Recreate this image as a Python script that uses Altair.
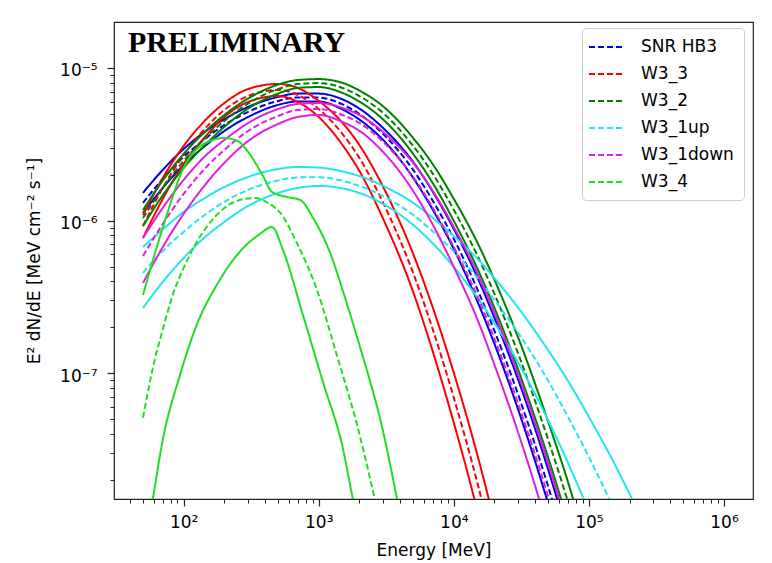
import altair as alt
import pandas as pd

# ---------------- data ----------------
SOURCES = ["SNR HB3", "W3_3", "W3_2", "W3_1up", "W3_1down", "W3_4"]
COLORS = ["#0000e0", "#ff0000", "#008000", "#22e6ee", "#e020e0", "#22dd22"]

# energies [MeV] shared by the smooth bands
E_GRID = [50, 70, 100, 150, 200, 300, 500, 700, 1000, 1500, 2000, 3000,
          5000, 7000, 1e4, 1.5e4, 2e4, 3e4, 5e4, 7e4, 1e5, 1.5e5, 2e5, 3e5]

# log10(E^2 dN/dE [MeV cm^-2 s^-1])
HB3_UP = [-5.818, -5.668, -5.531, -5.406, -5.335, -5.255, -5.190, -5.167, -5.168, -5.206,
          -5.266, -5.394, -5.616, -5.812, -6.055, -6.375, -6.638, -7.044, -7.633, -8.065]
HB3_MID = [-5.884, -5.727, -5.583, -5.452, -5.374, -5.288, -5.216, -5.193, -5.194, -5.239,
           -5.302, -5.433, -5.668, -5.871, -6.120, -6.454, -6.723, -7.142, -7.744, -8.183]
HB3_LO = [-5.950, -5.786, -5.635, -5.498, -5.413, -5.321, -5.242, -5.219, -5.220, -5.272,
          -5.338, -5.472, -5.720, -5.930, -6.186, -6.533, -6.808, -7.240, -7.855, -8.301]

W33_UP = [-5.963, -5.721, -5.511, -5.328, -5.230, -5.138, -5.105, -5.131, -5.216, -5.360,
          -5.505, -5.780, -6.218, -6.572, -6.998, -7.541, -7.974, -8.642]
W33_MID = [-6.035, -5.786, -5.570, -5.380, -5.275, -5.184, -5.144, -5.177, -5.269, -5.433,
           -5.590, -5.884, -6.343, -6.716, -7.161, -7.725, -8.177]
W33_LO = [-6.114, -5.858, -5.629, -5.433, -5.321, -5.223, -5.184, -5.223, -5.321, -5.505,
          -5.675, -5.989, -6.467, -6.860, -7.325, -7.908, -8.380]

W32_UP = [-5.931, -5.737, -5.563, -5.403, -5.308, -5.200, -5.109, -5.079, -5.073, -5.098,
          -5.148, -5.252, -5.459, -5.632, -5.858, -6.147, -6.388, -6.768, -7.319, -7.712, -8.184]
W32_MID = [-5.983, -5.786, -5.609, -5.446, -5.347, -5.233, -5.138, -5.105, -5.099, -5.131,
           -5.184, -5.295, -5.511, -5.694, -5.930, -6.232, -6.480, -6.873, -7.437, -7.843, -8.321]
W32_LO = [-6.035, -5.835, -5.655, -5.489, -5.386, -5.266, -5.168, -5.131, -5.125, -5.164,
          -5.220, -5.338, -5.563, -5.756, -6.002, -6.317, -6.572, -6.978, -7.555, -7.974, -8.459]

W31UP_UP = [-6.173, -6.058, -5.943, -5.842, -5.780, -5.714, -5.662, -5.649, -5.653, -5.678,
            -5.708, -5.773, -5.884, -5.983, -6.101, -6.251, -6.376, -6.572, -6.850, -7.050,
            -7.286, -7.571, -7.790, -8.111]
W31UP_MID = [-6.343, -6.199, -6.074, -5.950, -5.878, -5.799, -5.737, -5.717, -5.716, -5.740,
             -5.773, -5.839, -5.963, -6.071, -6.203, -6.376, -6.520, -6.736, -7.050, -7.286,
             -7.548, -7.875, -8.124]
W31UP_LO = [-6.572, -6.402, -6.245, -6.094, -6.009, -5.904, -5.819, -5.786, -5.773, -5.789,
            -5.819, -5.891, -6.028, -6.150, -6.304, -6.507, -6.670, -6.932, -7.309, -7.587, -7.905]

W31DN_UP = [-6.114, -5.917, -5.733, -5.563, -5.472, -5.361, -5.269, -5.236, -5.230, -5.262,
            -5.308, -5.420, -5.622, -5.806, -6.042, -6.349, -6.605, -7.011, -7.594, -8.019]
W31DN_MID = [-6.232, -6.022, -5.825, -5.642, -5.537, -5.413, -5.315, -5.275, -5.269, -5.308,
             -5.360, -5.485, -5.714, -5.917, -6.173, -6.500, -6.775, -7.201, -7.810, -8.255]
W31DN_LO = [-6.409, -6.173, -5.956, -5.747, -5.622, -5.479, -5.367, -5.321, -5.308, -5.354,
            -5.412, -5.551, -5.806, -6.028, -6.304, -6.651, -6.945, -7.391, -8.026, -8.491]

W34_UP_E = [50, 70, 100, 150, 200, 250, 300, 390, 450, 580, 730, 900, 1270, 1500, 2000, 3000, 3800, 4700]
W34_UP = [-6.487, -6.048, -5.655, -5.485, -5.459, -5.478, -5.550, -5.714, -5.812, -5.845,
          -5.865, -5.976, -6.258, -6.454, -6.814, -7.384, -7.823, -8.222]
W34_MID_E = [50, 61, 70, 83, 100, 125, 150, 200, 260, 340, 420, 520, 700, 970, 1360, 1920, 2600, 3100]
W34_MID = [-7.292, -6.913, -6.716, -6.487, -6.310, -6.140, -6.035, -5.917, -5.865, -5.852,
           -5.884, -5.950, -6.159, -6.454, -6.880, -7.338, -7.823, -8.124]
W34_LO_E = [50, 59, 70, 94, 125, 176, 260, 367, 450, 543, 764, 1074, 1500, 1790, 2020]
W34_LO = [-8.124, -7.823, -7.437, -7.011, -6.683, -6.421, -6.205, -6.087, -6.042, -6.192,
          -6.618, -7.057, -7.482, -7.823, -8.026]

X_MAJOR = [100, 1e3, 1e4, 1e5, 1e6]
X_MINOR = [40, 50, 60, 70, 80, 90] + [m * 10 ** k for k in (2, 3, 4, 5) for m in range(2, 10)]
Y_MAJOR = [1e-7, 1e-6, 1e-5]
Y_MINOR = [m * 10.0 ** k for k in (-8, -7, -6) for m in range(2, 10)]

# ---------------- table ----------------
rows = []


def add(src, kind, es, logs):
    for e, v in zip(es, logs):
        rows.append({"source": src, "line": src + "_" + kind,
                     "style": "dashed" if kind == "mid" else "solid",
                     "E": e, "F": 10 ** v})


add("SNR HB3", "up", E_GRID, HB3_UP)
add("SNR HB3", "mid", E_GRID, HB3_MID)
add("SNR HB3", "lo", E_GRID, HB3_LO)
add("W3_3", "up", E_GRID, W33_UP)
add("W3_3", "mid", E_GRID, W33_MID)
add("W3_3", "lo", E_GRID, W33_LO)
add("W3_2", "up", E_GRID, W32_UP)
add("W3_2", "mid", E_GRID, W32_MID)
add("W3_2", "lo", E_GRID, W32_LO)
add("W3_1up", "up", E_GRID, W31UP_UP)
add("W3_1up", "mid", E_GRID, W31UP_MID)
add("W3_1up", "lo", E_GRID, W31UP_LO)
add("W3_1down", "up", E_GRID, W31DN_UP)
add("W3_1down", "mid", E_GRID, W31DN_MID)
add("W3_1down", "lo", E_GRID, W31DN_LO)
add("W3_4", "up", W34_UP_E, W34_UP)
add("W3_4", "mid", W34_MID_E, W34_MID)
add("W3_4", "lo", W34_LO_E, W34_LO)
df = pd.DataFrame(rows)

FONT = "DejaVu Sans"
xscale = alt.Scale(type="log", domain=[30.5, 1.64e6], nice=False)
yscale = alt.Scale(type="log", domain=[1.5e-8, 2e-5], nice=False)

x_labels = ("datum.value == 100 ? '10²' : datum.value == 1000 ? '10³' : "
            "datum.value == 10000 ? '10⁴' : datum.value == 100000 ? '10⁵' : '10⁶'")
y_labels = "datum.value < 5e-7 ? '10⁻⁷' : datum.value < 5e-6 ? '10⁻⁶' : '10⁻⁵'"

lines = alt.Chart(df).mark_line(clip=True, strokeWidth=2, interpolate="monotone").encode(
    x=alt.X("E:Q", scale=xscale,
            axis=alt.Axis(orient="bottom", values=X_MAJOR, labelExpr=x_labels, tickSize=7,
                          tickWidth=1.2, tickColor="#222", domain=False, grid=False,
                          labelFont=FONT, labelFontSize=17, labelPadding=8, labelColor="#000",
                          labelFlush=False, labelOverlap=False,
                          title="Energy [MeV]", titleFont=FONT, titleFontSize=17,
                          titleFontWeight="normal", titleColor="#000",
                          titleX=319.5, titleY=56, titleBaseline="alphabetic")),
    y=alt.Y("F:Q", scale=yscale,
            axis=alt.Axis(orient="left", values=Y_MAJOR, labelExpr=y_labels, tickSize=7,
                          tickWidth=1.2, tickColor="#222", domain=False, grid=False,
                          labelFont=FONT, labelFontSize=17, labelPadding=10, labelColor="#000",
                          labelFlush=False, labelOverlap=False, labelOffset=3,
                          title="E² dN/dE [MeV cm⁻² s⁻¹]", titleFont=FONT, titleFontSize=17,
                          titleFontWeight="normal", titleColor="#000",
                          titleX=-80, titleY=238.5, titleAngle=270, titleBaseline="middle",
                          titleAlign="center")),
    color=alt.Color("source:N", scale=alt.Scale(domain=SOURCES, range=COLORS),
                    sort=SOURCES,
                    legend=alt.Legend(title=None, orient="none", legendX=468, legendY=6,
                                      symbolType="M-1.5,0H2.9", symbolSize=256,
                                      symbolStrokeWidth=2, symbolDash=[6, 3],
                                      labelFont=FONT, labelFontSize=17, labelColor="#000",
                                      labelOffset=31, rowPadding=10, padding=10,
                                      fillColor="rgba(255,255,255,0.8)", strokeColor="#cccccc",
                                      cornerRadius=4)),
    strokeDash=alt.StrokeDash("style:N",
                              scale=alt.Scale(domain=["solid", "dashed"], range=[[1, 0], [6, 3]]),
                              legend=None),
    detail="line:N",
)

minor = alt.Chart(pd.DataFrame({"E": [1000], "F": [1e-6]})).mark_point(opacity=0).encode(
    x=alt.X("E:Q", scale=xscale,
            axis=alt.Axis(orient="bottom", values=X_MINOR, labels=False, tickSize=4,
                          tickWidth=1, tickColor="#222", domain=False, grid=False, title=None)),
    y=alt.Y("F:Q", scale=yscale,
            axis=alt.Axis(orient="left", values=Y_MINOR, labels=False, tickSize=4,
                          tickWidth=1, tickColor="#222", domain=False, grid=False, title=None)),
)

stamp = alt.Chart(pd.DataFrame({"t": ["PRELIMINARY"]})).mark_text(
    font="Liberation Serif", fontSize=30, fontWeight="bold", align="left",
    baseline="alphabetic", color="#000"
).encode(text="t:N", x=alt.value(14), y=alt.value(30))

chart = alt.layer(lines, minor, stamp).resolve_axis(
    x="independent", y="independent"
).properties(
    width=639, height=477,
    autosize=alt.AutoSizeParams(type="none"),
    padding={"left": 106, "top": 14, "right": 9, "bottom": 62},
).configure_view(stroke="#222", strokeWidth=1.2)

chart.save("out.html", embed_options={"renderer": "svg", "actions": False})
